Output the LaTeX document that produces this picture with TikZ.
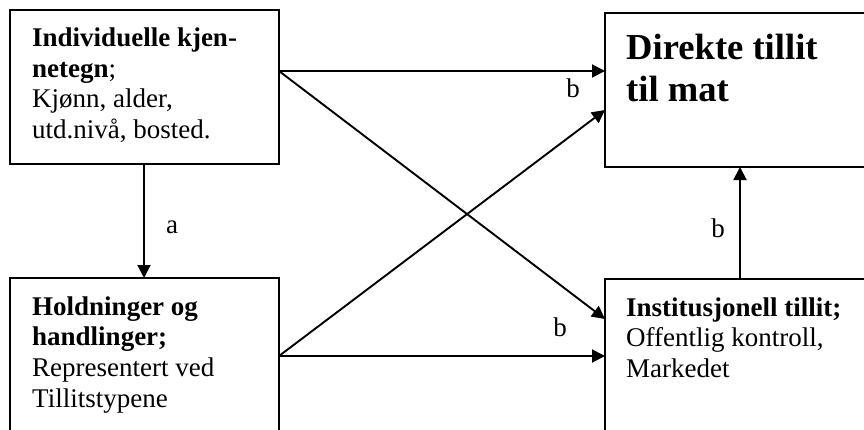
\documentclass[tikz,border=0pt]{standalone}
\usepackage{fontspec}
\setmainfont{Liberation Serif}
\usetikzlibrary{arrows.meta}
\begin{document}
\begin{tikzpicture}[x=1pt,y=-1pt,
  box/.style={draw, line width=1.9pt, anchor=north west, inner sep=0pt, outer sep=0pt},
  txt/.style={anchor=base west, inner sep=0pt, font=\fontsize{27}{30.7}\selectfont},
  big/.style={anchor=base west, inner sep=0pt, font=\fontsize{36.6}{41}\selectfont\bfseries},
  lbl/.style={anchor=center, inner sep=0pt, font=\fontsize{27}{30.7}\selectfont},
  conn/.style={line width=1.9pt, -{Triangle[length=13pt,width=13pt]}}]
\useasboundingbox (0,0) rectangle (864,429);
\clip (0,0) rectangle (864,429);
% boxes
\node[box, minimum width=269pt, minimum height=154pt] (tl) at (10,10) {};
\node[box, minimum width=269pt, minimum height=200pt] (bl) at (10,278) {};
\node[box, minimum width=290pt, minimum height=154pt] (tr) at (605,13) {};
\node[box, minimum width=290pt, minimum height=200pt] (br) at (605,279) {};
% texts
\node[txt] (tl1) at (32,46) {\textbf{Individuelle kjen-}};
\node[txt] (tl2) at (32,77) {\textbf{netegn};};
\node[txt] (tl3) at (32,107) {Kjønn, alder,};
\node[txt] (tl4) at (32,138) {utd.nivå, bosted.};
\node[txt] (bl1) at (32,315) {\textbf{Holdninger og}};
\node[txt] (bl2) at (32,345) {\textbf{handlinger;}};
\node[txt] (bl3) at (32,376) {Representert ved};
\node[txt] (bl4) at (32,407) {Tillitstypene};
\node[big] (tr1) at (626,59) {Direkte tillit};
\node[big] (tr2) at (626,101) {til mat};
\node[txt] (br1) at (626,316) {\textbf{Institusjonell tillit;}};
\node[txt] (br2) at (626,346) {Offentlig kontroll,};
\node[txt] (br3) at (626,377) {Markedet};
% connectors
\draw[conn] ([yshift=-61pt]tl.north east) -- ([yshift=-58pt]tr.north west);
\draw[conn] ([yshift=-61pt]tl.north east) -- ([yshift=-40pt]br.north west);
\draw[conn] ([yshift=-78pt]bl.north east) -- ([yshift=-97pt]tr.north west);
\draw[conn] ([yshift=-78pt]bl.north east) -- ([yshift=-77pt]br.north west);
\draw[conn] ([xshift=134pt]tl.south west) -- ([xshift=134pt]bl.north west);
\draw[conn] ([xshift=135pt]br.north west) -- ([xshift=135pt]tr.south west);
% labels
\node[lbl] (la) at (172,227) {a};
\node[lbl] (lb1) at (573,88) {b};
\node[lbl] (lb2) at (560,327) {b};
\node[lbl] (lb3) at (718,228) {b};
\end{tikzpicture}
\end{document}
